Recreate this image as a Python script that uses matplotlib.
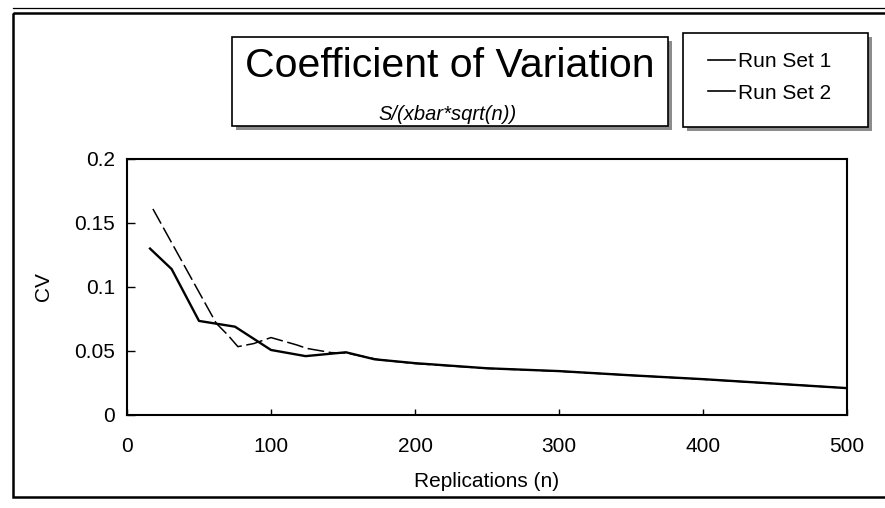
"""
Coeficiente de variacao x numero de replicacoes (dois conjuntos de rodadas)
"""
import matplotlib.pyplot as plt
from matplotlib.patches import Rectangle
from matplotlib.lines import Line2D

plt.rcParams['font.family'] = ['Liberation Sans', 'DejaVu Sans']

# valores
n_set1 = [16, 31, 50, 75, 100, 124, 152, 172, 200, 250, 300, 350, 400, 450, 500]
cv_set1 = [0.130, 0.114, 0.0735, 0.069, 0.0508, 0.046, 0.049, 0.0435, 0.0405,
           0.0365, 0.0343, 0.031, 0.028, 0.0245, 0.021]
n_set2 = [18, 62, 70, 77, 88, 100, 118, 125, 142, 152, 175, 200, 250, 300, 350,
          400, 450, 500]
cv_set2 = [0.161, 0.0716, 0.0625, 0.0534, 0.0558, 0.0605, 0.0547, 0.052, 0.0487,
           0.0485, 0.0432, 0.0402, 0.0364, 0.0342, 0.031, 0.0279, 0.0245, 0.021]
x_ticks = [0, 100, 200, 300, 400, 500]
y_ticks = [0, 0.05, 0.1, 0.15, 0.2]
y_labels = ['0', '0.05', '0.1', '0.15', '0.2']

W, H = 885, 508
fig = plt.figure(figsize=(W / 100, H / 100), dpi=100)

# fundo em pixels para as caixas
bg = fig.add_axes([0, 0, 1, 1], zorder=0)
bg.set_xlim(0, W)
bg.set_ylim(H, 0)
bg.axis('off')

# moldura externa
bg.add_patch(Rectangle((13, 13), 900, 484, fill=False, ec='black', lw=1.8))
bg.plot([13, W], [8, 8], color='black', lw=0.9)

# caixa do titulo + sombra
bg.add_patch(Rectangle((236, 41), 436, 89, fc='#8c8c8c', ec='none'))
bg.add_patch(Rectangle((232, 37), 436, 89, fc='white', ec='black', lw=1.2))
bg.text(450, 77, 'Coefficient of Variation', ha='center', va='baseline', fontsize=29.5)
bg.text(448, 120, 'S/(xbar*sqrt(n))', ha='center', va='baseline', fontsize=14.5,
        style='italic')

# caixa da legenda + sombra
bg.add_patch(Rectangle((687, 37), 185, 94, fc='#8c8c8c', ec='none'))
bg.add_patch(Rectangle((683, 33), 185, 94, fc='white', ec='black', lw=1.2))

ax = fig.add_axes([127 / W, 93 / H, 720 / W, 256 / H], zorder=1)
ax.patch.set_alpha(0)
ax.plot(n_set1, cv_set1, color='black', lw=1.7, label='Run Set 1', zorder=3)
ax.plot(n_set2, cv_set2, color='black', lw=1.1, ls=(0, (11, 3)), label='Run Set 2',
        zorder=2)

ax.set_xlim(0, 500)
ax.set_ylim(0, 0.2)
ax.set_xticks(x_ticks)
ax.set_yticks(y_ticks)
ax.set_yticklabels(y_labels)
ax.tick_params(direction='in', labelsize=15, width=1, colors='black')
ax.tick_params(axis='x', length=4.5, pad=15.8)
ax.tick_params(axis='y', length=6, pad=8.6)
for s in ax.spines.values():
    s.set_linewidth(1.5)
ax.set_xlabel('Replications (n)', fontsize=15, labelpad=11.5)
ax.set_ylabel('CV', fontsize=15, labelpad=15)

handles = [Line2D([], [], color='black', lw=1.2), Line2D([], [], color='black', lw=1.2)]
fig.legend(handles, ['Run Set 1', 'Run Set 2'], loc='center left',
           bbox_to_anchor=(708 / W, 1 - 77.5 / H), frameon=False, fontsize=15,
           borderpad=0, borderaxespad=0, handlelength=1.3, handletextpad=0.15,
           labelspacing=0.58)

fig.savefig('out.png', dpi=100)
